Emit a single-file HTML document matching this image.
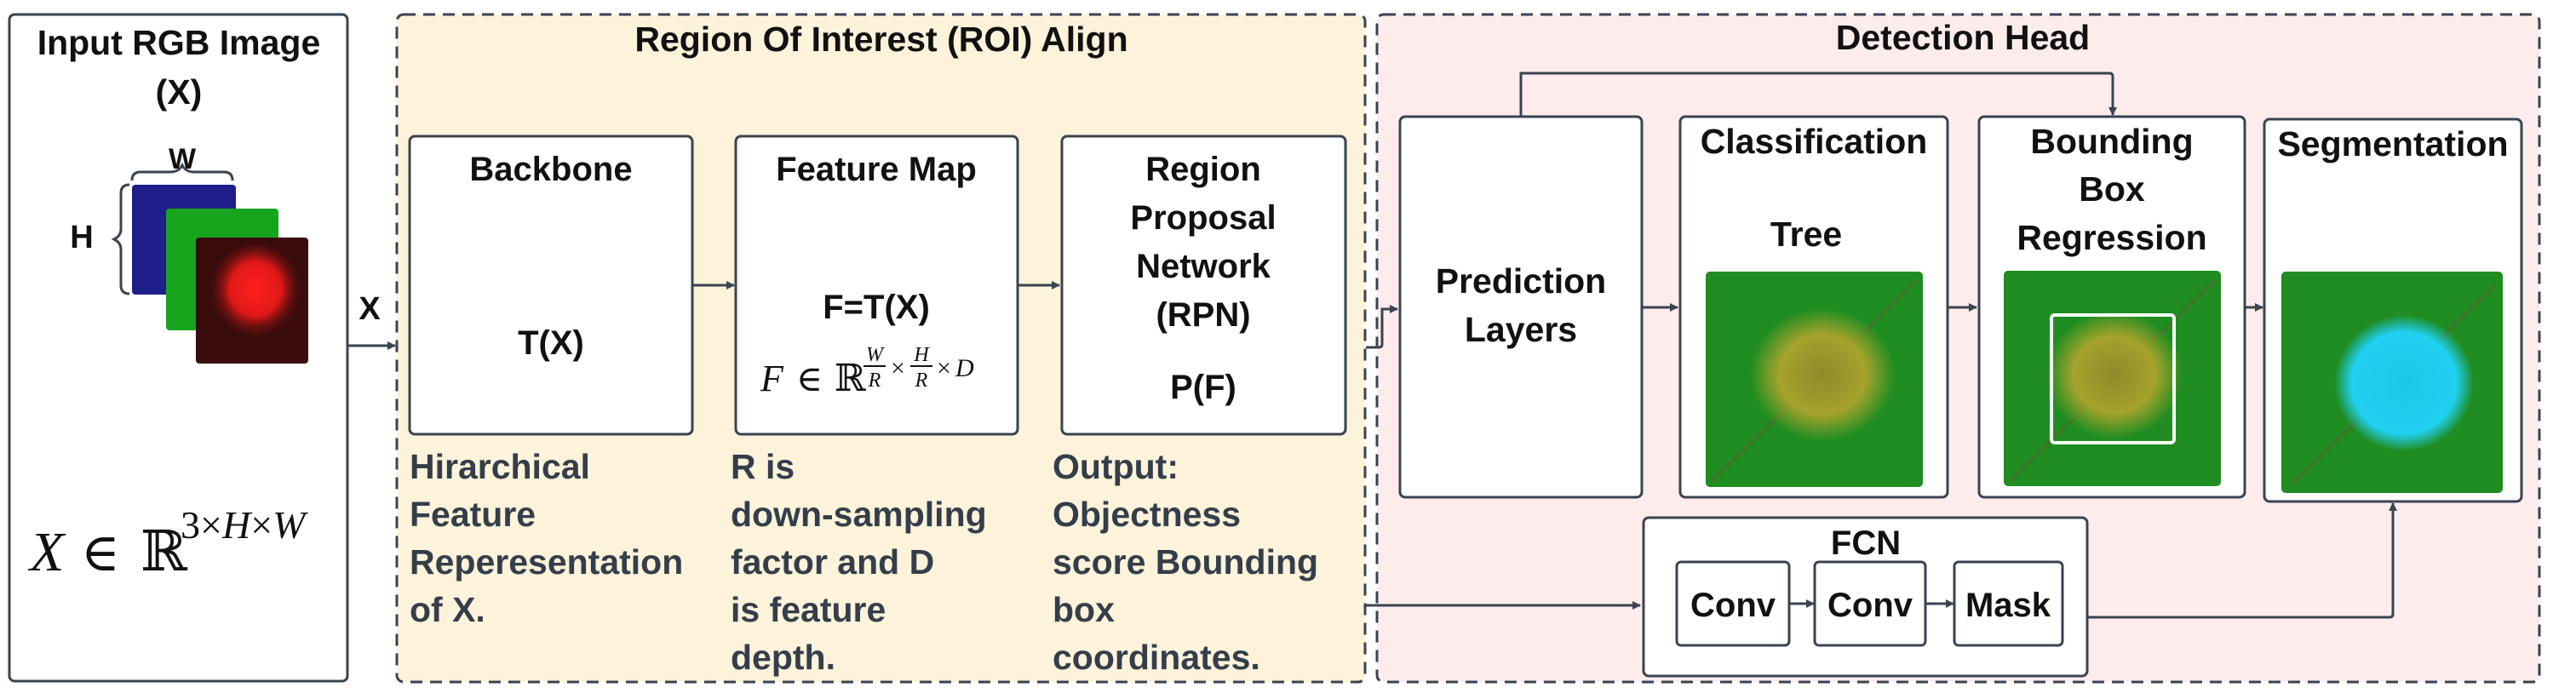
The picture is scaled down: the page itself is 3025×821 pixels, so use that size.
<!DOCTYPE html>
<html><head><meta charset="utf-8"><style>
html,body{margin:0;padding:0;background:#fff;width:3025px;height:821px;overflow:hidden}
svg{display:block}
.t{font-family:"Liberation Sans",Arial,sans-serif;font-weight:bold;fill:#111}
.d{font-family:"Liberation Sans",Arial,sans-serif;font-weight:bold;fill:#343e4a;font-size:41px}
.m{font-family:"Liberation Serif","DejaVu Serif",serif;font-style:italic;fill:#111}
.mr{font-family:"Liberation Serif","DejaVu Serif",serif;fill:#111}
</style></head><body>
<svg width="3025" height="821" viewBox="0 0 3025 821" xmlns="http://www.w3.org/2000/svg">
<defs>
<marker id="a" markerWidth="10" markerHeight="10" refX="9" refY="5" orient="auto" markerUnits="userSpaceOnUse" viewBox="0 0 10 10"><path d="M0,0 L10,5 L0,10 z" fill="#3a4350"/></marker>
<radialGradient id="tree" cx="50%" cy="50%" r="50%"><stop offset="0" stop-color="#8f8a2a"/><stop offset="0.6" stop-color="#a5a22c"/><stop offset="1" stop-color="#a5a22c" stop-opacity="0"/></radialGradient>
<radialGradient id="cy" cx="50%" cy="50%" r="50%"><stop offset="0" stop-color="#1cc8e8"/><stop offset="0.75" stop-color="#20d0f0"/><stop offset="1" stop-color="#20d0f0" stop-opacity="0"/></radialGradient>
<radialGradient id="rd" cx="50%" cy="45%" r="50%"><stop offset="0" stop-color="#ff2020"/><stop offset="0.55" stop-color="#e01818"/><stop offset="1" stop-color="#5a0d0d" stop-opacity="0"/></radialGradient>
</defs>

<!-- group backgrounds -->
<rect x="466" y="17" width="1137" height="784" rx="8" fill="#fdf2da" stroke="#3a4350" stroke-width="3" stroke-dasharray="14,9"/>
<rect x="1617" y="17" width="1365" height="784" rx="8" fill="#fdeceb" stroke="#3a4350" stroke-width="3" stroke-dasharray="14,9"/>

<!-- input box -->
<rect x="11" y="17" width="397" height="783" rx="6" fill="#fff" stroke="#3a4350" stroke-width="3"/>
<text class="t" x="210" y="64" font-size="41" text-anchor="middle">Input RGB Image</text>
<text class="t" x="210" y="122" font-size="41" text-anchor="middle">(X)</text>
<text class="t" x="214" y="198" font-size="34" text-anchor="middle">W</text>
<path d="M155,212 q0,-10 10,-10 h35 q10,0 14,-8 q4,8 14,8 h35 q10,0 10,10" fill="none" stroke="#3a4350" stroke-width="3"/>
<path d="M152,217 q-10,0 -10,10 v42 q0,8 -8,12 q8,4 8,12 v42 q0,10 10,10" fill="none" stroke="#3a4350" stroke-width="3"/>
<text class="t" x="96" y="291" font-size="38" text-anchor="middle">H</text>
<rect x="155" y="217" width="122" height="129" rx="4" fill="#1f1d8a"/>
<rect x="195" y="245" width="132" height="143" rx="4" fill="#18a51e"/>
<rect x="230" y="279" width="132" height="148" rx="4" fill="#3a0c0c"/>
<ellipse cx="300" cy="345" rx="55" ry="58" fill="url(#rd)"/>
<text class="m" x="35" y="670" font-size="66">X</text>
<text class="mr" x="95" y="670" font-size="62">∈</text>
<text class="mr" x="165" y="670" font-size="66">ℝ</text>
<text class="m" x="212" y="632" font-size="46"><tspan font-style="normal">3×</tspan>H<tspan font-style="normal">×</tspan>W</text>

<!-- X arrow -->
<line x1="408" y1="406" x2="464" y2="406" stroke="#3a4350" stroke-width="3" marker-end="url(#a)"/>
<text class="t" x="434" y="375" font-size="38" text-anchor="middle">X</text>

<text class="t" x="1035" y="60" font-size="41" text-anchor="middle">Region Of Interest (ROI) Align</text>

<!-- backbone -->
<rect x="481" y="160" width="332" height="350" rx="6" fill="#fff" stroke="#3a4350" stroke-width="3"/>
<text class="t" x="647" y="212" font-size="40" text-anchor="middle">Backbone</text>
<text class="t" x="647" y="416" font-size="40" text-anchor="middle">T(X)</text>
<line x1="813" y1="335" x2="862" y2="335" stroke="#3a4350" stroke-width="3" marker-end="url(#a)"/>

<!-- feature map -->
<rect x="864" y="160" width="331" height="350" rx="6" fill="#fff" stroke="#3a4350" stroke-width="3"/>
<text class="t" x="1029" y="212" font-size="40" text-anchor="middle">Feature Map</text>
<text class="t" x="1029" y="374" font-size="40" text-anchor="middle">F=T(X)</text>
<text class="m" x="893" y="459" font-size="44">F</text>
<text class="mr" x="935" y="459" font-size="42">∈</text>
<text class="mr" x="980" y="459" font-size="44">ℝ</text>
<text class="m" x="1027" y="424" font-size="24" text-anchor="middle">W</text>
<line x1="1014" y1="430" x2="1040" y2="430" stroke="#111" stroke-width="2"/>
<text class="m" x="1027" y="454" font-size="24" text-anchor="middle">R</text>
<text class="mr" x="1046" y="442" font-size="30">×</text>
<text class="m" x="1082" y="424" font-size="24" text-anchor="middle">H</text>
<line x1="1069" y1="430" x2="1095" y2="430" stroke="#111" stroke-width="2"/>
<text class="m" x="1082" y="454" font-size="24" text-anchor="middle">R</text>
<text class="mr" x="1100" y="442" font-size="30">×</text>
<text class="m" x="1122" y="442" font-size="30">D</text>
<line x1="1195" y1="335" x2="1244" y2="335" stroke="#3a4350" stroke-width="3" marker-end="url(#a)"/>

<!-- RPN -->
<rect x="1247" y="160" width="333" height="350" rx="6" fill="#fff" stroke="#3a4350" stroke-width="3"/>
<g class="t" font-size="40" text-anchor="middle">
<text x="1413" y="212">Region</text>
<text x="1413" y="269">Proposal</text>
<text x="1413" y="326">Network</text>
<text x="1413" y="383">(RPN)</text>
<text x="1413" y="468">P(F)</text>
</g>

<!-- descriptions -->
<g class="d">
<text x="481" y="562">Hirarchical</text>
<text x="481" y="618">Feature</text>
<text x="481" y="674">Reperesentation</text>
<text x="481" y="730">of X.</text>
<text x="858" y="562">R is</text>
<text x="858" y="618">down-sampling</text>
<text x="858" y="674">factor and D</text>
<text x="858" y="730">is feature</text>
<text x="858" y="786">depth.</text>
<text x="1236" y="562">Output:</text>
<text x="1236" y="618">Objectness</text>
<text x="1236" y="674">score Bounding</text>
<text x="1236" y="730">box</text>
<text x="1236" y="786">coordinates.</text>
</g>

<!-- RPN to prediction -->
<path d="M1604,408 H1619 q4,0 4,-4 V363 H1641" fill="none" stroke="#3a4350" stroke-width="3" marker-end="url(#a)"/>
<line x1="1604" y1="711" x2="1926" y2="711" stroke="#3a4350" stroke-width="3" marker-end="url(#a)"/>

<text class="t" x="2305" y="58" font-size="41" text-anchor="middle">Detection Head</text>

<!-- prediction -->
<rect x="1644" y="137" width="284" height="447" rx="6" fill="#fff" stroke="#3a4350" stroke-width="3"/>
<text class="t" x="1786" y="344" font-size="41" text-anchor="middle">Prediction</text>
<text class="t" x="1786" y="401" font-size="41" text-anchor="middle">Layers</text>
<path d="M1786,137 V86 H2477 q4,0 4,4 V135" fill="none" stroke="#3a4350" stroke-width="3" marker-end="url(#a)"/>
<line x1="1928" y1="361" x2="1970" y2="361" stroke="#3a4350" stroke-width="3" marker-end="url(#a)"/>

<!-- classification -->
<rect x="1973" y="137" width="314" height="447" rx="6" fill="#fff" stroke="#3a4350" stroke-width="3"/>
<text class="t" x="2130" y="180" font-size="41" text-anchor="middle">Classification</text>
<text class="t" x="2121" y="289" font-size="41" text-anchor="middle">Tree</text>
<rect x="2003" y="319" width="255" height="253" rx="5" fill="#1f8d22"/>
<path d="M2010,565 L2250,330" stroke="#4f6a2a" stroke-width="4" opacity="0.6"/>
<ellipse cx="2140" cy="440" rx="85" ry="78" fill="url(#tree)"/>
<line x1="2287" y1="361" x2="2321" y2="361" stroke="#3a4350" stroke-width="3" marker-end="url(#a)"/>

<!-- bbox -->
<rect x="2324" y="137" width="312" height="447" rx="6" fill="#fff" stroke="#3a4350" stroke-width="3"/>
<g class="t" font-size="41" text-anchor="middle">
<text x="2480" y="180">Bounding</text>
<text x="2480" y="236">Box</text>
<text x="2480" y="293">Regression</text>
</g>
<rect x="2353" y="318" width="255" height="253" rx="5" fill="#1f8d22"/>
<path d="M2360,565 L2600,330" stroke="#4f6a2a" stroke-width="4" opacity="0.6"/>
<ellipse cx="2483" cy="440" rx="80" ry="75" fill="url(#tree)"/>
<rect x="2409" y="370" width="144" height="150" rx="4" fill="none" stroke="#fff" stroke-width="4"/>
<line x1="2636" y1="361" x2="2657" y2="361" stroke="#3a4350" stroke-width="3" marker-end="url(#a)"/>

<!-- segmentation -->
<rect x="2659" y="140" width="302" height="449" rx="6" fill="#fff" stroke="#3a4350" stroke-width="3"/>
<text class="t" x="2810" y="183" font-size="41" text-anchor="middle">Segmentation</text>
<rect x="2679" y="319" width="260" height="260" rx="5" fill="#1f8d22"/>
<path d="M2690,570 L2930,335" stroke="#4f6a2a" stroke-width="4" opacity="0.6"/>
<ellipse cx="2823" cy="450" rx="82" ry="80" fill="url(#cy)"/>

<!-- FCN -->
<rect x="1930" y="608" width="521" height="186" rx="6" fill="#fff" stroke="#3a4350" stroke-width="3"/>
<text class="t" x="2191" y="651" font-size="40" text-anchor="middle">FCN</text>
<rect x="1969" y="660" width="132" height="98" rx="5" fill="#fff" stroke="#3a4350" stroke-width="3"/>
<rect x="2131" y="660" width="130" height="98" rx="5" fill="#fff" stroke="#3a4350" stroke-width="3"/>
<rect x="2295" y="660" width="127" height="98" rx="5" fill="#fff" stroke="#3a4350" stroke-width="3"/>
<text class="t" x="2035" y="724" font-size="40" text-anchor="middle">Conv</text>
<text class="t" x="2196" y="724" font-size="40" text-anchor="middle">Conv</text>
<text class="t" x="2358" y="724" font-size="40" text-anchor="middle">Mask</text>
<line x1="2101" y1="709" x2="2130" y2="709" stroke="#3a4350" stroke-width="3" marker-end="url(#a)"/>
<line x1="2261" y1="709" x2="2294" y2="709" stroke="#3a4350" stroke-width="3" marker-end="url(#a)"/>
<path d="M2451,725 H2806 q4,0 4,-4 V591" fill="none" stroke="#3a4350" stroke-width="3" marker-end="url(#a)"/>
</svg>
</body></html>
